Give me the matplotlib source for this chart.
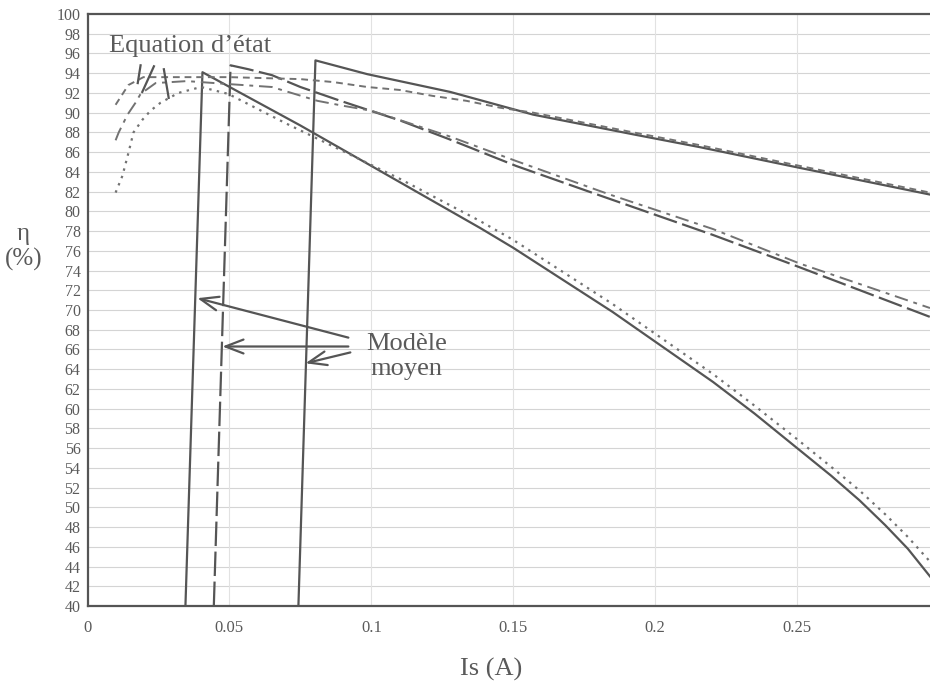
import matplotlib
matplotlib.use("Agg")
import matplotlib.pyplot as plt
import numpy as np

plt.rcParams['font.family'] = ['Liberation Serif', 'DejaVu Serif']

# ---- data ----
x_ticks = [0, 0.05, 0.1, 0.15, 0.2, 0.25]
x_tick_labels = ["0", "0.05", "0.1", "0.15", "0.2", "0.25"]
y_ticks = list(range(40, 101, 2))

# Modèle moyen (average model) curves
model_A_x = [0.0345, 0.0405, 0.075, 0.100, 0.1384, 0.150, 0.185, 0.2204, 0.235, 0.250, 0.262, 0.272, 0.281, 0.289, 0.2968]
model_A_y = [40.0, 94.1, 88.7, 84.6, 78.3, 76.3, 69.8, 62.7, 59.5, 56.0, 53.2, 50.7, 48.2, 45.8, 43.0]

model_B_x = [0.0445, 0.0504, 0.0567, 0.065, 0.075, 0.0891, 0.1102, 0.1275, 0.151, 0.1806, 0.2204, 0.2475, 0.2968]
model_B_y = [40.0, 94.8, 94.4, 93.8, 92.6, 91.2, 89.2, 87.3, 84.6, 81.6, 77.6, 74.7, 69.3]

model_C_x = [0.0743, 0.0803, 0.0986, 0.1278, 0.157, 0.1923, 0.2158, 0.251, 0.2968]
model_C_y = [40.0, 95.3, 93.9, 92.1, 89.8, 87.8, 86.5, 84.4, 81.7]

# Equation d'état (state equation) curves
eq_A_x = [0.0099, 0.0123, 0.0144, 0.0162, 0.0194, 0.0222, 0.0257, 0.032, 0.040, 0.0496, 0.070, 0.090,
          0.110, 0.1384, 0.150, 0.185, 0.2204, 0.235, 0.250, 0.262, 0.272, 0.281, 0.289, 0.2968]
eq_A_y = [81.9, 83.6, 85.9, 88.0, 89.3, 90.2, 91.0, 92.0, 92.6, 91.9, 88.9, 86.1,
          83.3, 79.0, 77.1, 70.6, 63.5, 60.3, 56.9, 54.1, 51.7, 49.3, 47.0, 44.5]

eq_B_x = [0.0099, 0.011, 0.0141, 0.0169, 0.0187, 0.024, 0.035, 0.0496, 0.065, 0.081, 0.090, 0.100,
          0.1275, 0.151, 0.184, 0.2204, 0.251, 0.2968]
eq_B_y = [87.2, 88.0, 89.8, 91.0, 91.9, 93.0, 93.2, 92.9, 92.6, 91.2, 90.7, 90.2,
          87.6, 85.1, 81.7, 78.2, 74.7, 70.2]

eq_C_x = [0.0099, 0.0144, 0.0197, 0.030, 0.050, 0.075, 0.0866, 0.0986, 0.110, 0.1216, 0.1335, 0.1454,
          0.157, 0.1746, 0.1923, 0.2158, 0.251, 0.2968]
eq_C_y = [90.8, 92.8, 93.6, 93.6, 93.6, 93.4, 93.1, 92.6, 92.3, 91.7, 91.2, 90.5,
          90.0, 89.0, 88.0, 86.7, 84.6, 81.9]

# short stray strokes near the start of the state-equation curves
stroke_x = [[0.0187, 0.0177], [0.0234, 0.0193], [0.0269, 0.0286]]
stroke_y = [[94.8, 93.0], [94.7, 92.1], [94.4, 91.5]]

# annotation arrows (tail -> head)
arrow_tails = [(0.0919, 67.2), (0.0919, 66.3), (0.0926, 65.7)]
arrow_heads = [(0.0387, 71.2), (0.0475, 66.3), (0.0768, 64.6)]

# ---- figure ----
fig = plt.figure(figsize=(9.3, 6.82), dpi=100)
ax = fig.add_axes([87.5 / 930, 76 / 682, 1 - 87.5 / 930, 592 / 682])

line_col = '#555555'
eq_col = '#727272'
txt_col = '#5a5a5a'

for y in y_ticks[1:-1]:
    ax.axhline(y, color='#d4d4d4', lw=0.8, zorder=0)
for x in x_ticks[1:]:
    ax.axvline(x, color='#e2e2e2', lw=0.8, zorder=0)

ax.plot(model_A_x, model_A_y, color=line_col, lw=1.6, solid_joinstyle='round')
ax.plot(model_C_x, model_C_y, color=line_col, lw=1.6, solid_joinstyle='round')
ax.plot(model_B_x, model_B_y, color=line_col, lw=1.6, linestyle=(0, (11, 2.5)))

ax.plot(eq_A_x, eq_A_y, color=eq_col, lw=1.6, linestyle=(0, (1.1, 2.4)))
ax.plot(eq_B_x, eq_B_y, color=eq_col, lw=1.4, linestyle=(0, (7, 3, 2, 3)))
ax.plot(eq_C_x, eq_C_y, color=eq_col, lw=1.4, linestyle=(0, (3.5, 2.5)))

for sx, sy in zip(stroke_x, stroke_y):
    ax.plot(sx, sy, color=line_col, lw=1.6)

for (tx, ty), (hx, hy) in zip(arrow_tails, arrow_heads):
    ax.annotate('', xy=(hx, hy), xytext=(tx, ty),
                arrowprops=dict(arrowstyle='->,head_length=1.3,head_width=0.5',
                                color=line_col, lw=1.6, shrinkA=0, shrinkB=0))

ax.text(0.0074, 96.15, "Equation d\u2019état", fontsize=19, color=txt_col, va='baseline', ha='left')
ax.text(0.1125, 65.3, "Modèle\nmoyen", fontsize=19, color=txt_col, va='center', ha='center',
        linespacing=1.2)

ax.set_xlim(0, 0.2968)
ax.set_ylim(40, 100)
ax.set_xticks(x_ticks)
ax.set_xticklabels(x_tick_labels)
ax.set_yticks(y_ticks)
ax.tick_params(axis='both', length=0, colors=txt_col)
ax.tick_params(axis='y', pad=5, labelsize=11.5)
ax.tick_params(axis='x', pad=10, labelsize=12)

for s in ['left', 'bottom', 'top']:
    ax.spines[s].set_color(line_col)
    ax.spines[s].set_linewidth(1.6)
ax.spines['right'].set_visible(False)

fig.text(491 / 930, 1 - 669 / 682, "Is (A)", fontsize=19, color=txt_col, ha='center', va='center')
fig.text(0.025, 1 - 234 / 682, "\u03b7", fontsize=18, color=txt_col, ha='center', va='center')
fig.text(0.025, 1 - 259 / 682, "(%)", fontsize=18, color=txt_col, ha='center', va='center')

fig.savefig("out.png", dpi=100)
